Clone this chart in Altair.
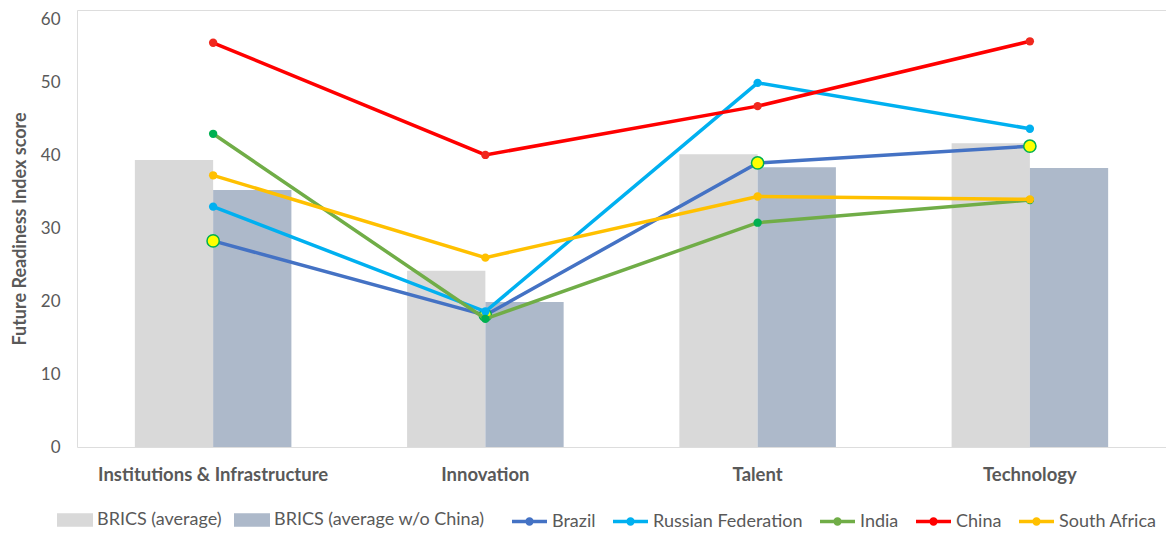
import altair as alt
import pandas as pd

categories = ["Institutions & Infrastructure", "Innovation", "Talent", "Technology"]

bar_series = ["BRICS (average)", "BRICS (average w/o China)"]
brics_avg = [39.4, 24.2, 40.2, 41.7]
brics_avg_wo_china = [35.3, 19.9, 38.4, 38.3]

line_series = ["Brazil", "Russian Federation", "India", "China", "South Africa"]
brazil = [28.3, 18.1, 39.0, 41.3]
russia = [33.0, 18.6, 50.0, 43.7]
india = [43.0, 17.6, 30.8, 33.9]
china = [55.5, 40.1, 46.8, 55.7]
south_africa = [37.3, 26.0, 34.4, 34.0]

bar_colors = ["#d9d9d9", "#adb9ca"]
line_colors = ["#4472c4", "#00b0f0", "#70ad47", "#ff0000", "#ffc000"]
marker_fill = ["#ffff00", "#00b0f0", "#00b050", "#f0281e", "#ffc000"]
marker_stroke = ["#00b050", None, None, None, None]
marker_size = [150, 70, 70, 70, 70]

bar_rows = []
for s, vals in zip(bar_series, [brics_avg, brics_avg_wo_china]):
    for i, (c, v) in enumerate(zip(categories, vals)):
        bar_rows.append({"category": c, "series": s, "value": v, "idx": i})
bars_df = pd.DataFrame(bar_rows)

line_rows = []
for s, vals in zip(line_series, [brazil, russia, india, china, south_africa]):
    for i, (c, v) in enumerate(zip(categories, vals)):
        line_rows.append({"category": c, "series": s, "value": v, "idx": i})
lines_df = pd.DataFrame(line_rows)

FONT = "Lato"
GRAY = "#595959"

x_enc = alt.X(
    "category:N",
    sort=categories,
    scale=alt.Scale(domain=categories, paddingInner=0.425, paddingOuter=0.2125),
    axis=alt.Axis(
        title=None, labelAngle=0, labelFontWeight="bold", labelFontSize=18.5,
        labelColor=GRAY, labelPadding=18, ticks=False, domain=False, labelFont=FONT,
        labelLimit=400,
    ),
)
y_enc = alt.Y(
    "value:Q",
    scale=alt.Scale(domain=[0, 60], nice=False),
    axis=alt.Axis(
        title="Future Readiness Index score", values=[0, 10, 20, 30, 40, 50, 60],
        grid=False, ticks=False, domain=False, labelFontSize=17, labelColor=GRAY,
        labelPadding=17, titleFontSize=18, titleFontWeight="bold", titleColor=GRAY,
        titlePadding=11, labelFont=FONT, titleFont=FONT,
        labelOffset={"condition": {"test": "datum.value == 60", "value": 9}, "value": 0},
    ),
)

bars = alt.Chart(bars_df).mark_bar().encode(
    x=x_enc,
    xOffset=alt.XOffset("series:N", sort=bar_series,
                        scale=alt.Scale(domain=bar_series, paddingInner=0, paddingOuter=0)),
    y=y_enc,
    fill=alt.Fill(
        "series:N",
        scale=alt.Scale(domain=bar_series, range=bar_colors),
        legend=alt.Legend(
            orient="none", legendX=-20, legendY=492, direction="horizontal", title=None,
            symbolType="M-1,-0.37H1V0.37H-1Z", symbolSize=1296, symbolStrokeWidth=0,
            labelFontSize=18, labelColor=GRAY, labelOffset=4, columnPadding=12,
            labelLimit=400, labelFont=FONT,
        ),
    ),
)

stroke_enc = alt.Stroke(
    "series:N",
    scale=alt.Scale(domain=line_series, range=line_colors),
    legend=alt.Legend(
        orient="none", legendX=433, legendY=492, direction="horizontal", title=None,
        symbolType="M-1,0H1M0.14,0A0.14,0.14 0 1,1 -0.14,0A0.14,0.14 0 1,1 0.14,0Z",
        symbolSize=1225, symbolStrokeWidth=3.5, labelFontSize=18, labelColor=GRAY,
        labelOffset=3, columnPadding=10, labelLimit=400, labelFont=FONT,
    ),
)

layers = [bars]
for i, s in enumerate(line_series):
    base = alt.Chart(lines_df).transform_filter(alt.datum.series == s)
    line = base.mark_line(strokeWidth=3.5).encode(
        x=x_enc, y=y_enc, stroke=stroke_enc, order=alt.Order("idx:Q")
    )
    pt_kwargs = dict(filled=True, fill=marker_fill[i], size=marker_size[i], opacity=1)
    if marker_stroke[i]:
        pt_kwargs.update(stroke=marker_stroke[i], strokeWidth=1.5)
    else:
        pt_kwargs.update(strokeWidth=0)
    pts = base.mark_point(**pt_kwargs).encode(x=x_enc, y=y_enc)
    layers += [line, pts]

chart = alt.layer(*layers).properties(
    width=1089,
    height=437,
    padding={"left": 69, "top": 2, "right": 0, "bottom": 84},
    autosize=alt.AutoSizeParams(type="none"),
).configure_view(
    stroke="#d9d9d9", strokeWidth=1
).configure(font=FONT)

chart.save("out.html", embed_options={"renderer": "svg", "actions": False})
